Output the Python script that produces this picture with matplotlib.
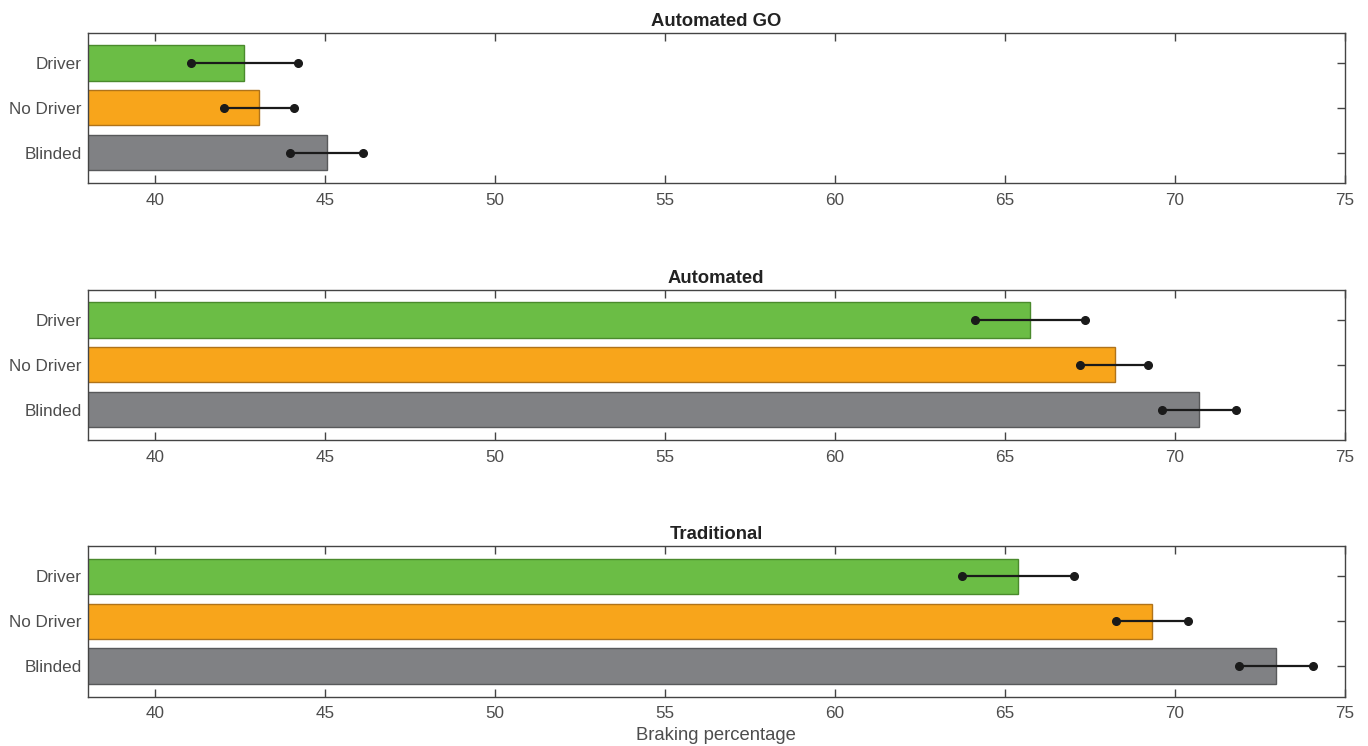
import matplotlib
matplotlib.use("Agg")
import matplotlib.pyplot as plt
import numpy as np

plt.rcParams['font.family'] = ['Liberation Sans', 'DejaVu Sans']

panels = ["Automated GO", "Automated", "Traditional"]
categories = ["Driver", "No Driver", "Blinded"]
means = {
    "Automated GO": [42.62, 43.05, 45.04],
    "Automated": [65.75, 68.23, 70.73],
    "Traditional": [65.39, 69.33, 72.98],
}
err_low = {
    "Automated GO": [41.04, 42.01, 43.95],
    "Automated": [64.12, 67.22, 69.64],
    "Traditional": [63.75, 68.26, 71.90],
}
err_high = {
    "Automated GO": [44.20, 44.07, 46.12],
    "Automated": [67.36, 69.22, 71.82],
    "Traditional": [67.03, 70.38, 74.06],
}
colors = ["#6bbd45", "#f8a51b", "#808184"]
edgecolors = ["#4a8a2c", "#b0731a", "#58595b"]
xticks = [40, 45, 50, 55, 60, 65, 70, 75]
xlabel = "Braking percentage"

fig = plt.figure(figsize=(13.68, 7.46), dpi=100)
W, H = 1368, 746
left, right = 87.5, 1344.5
tops = [32.5, 289.5, 546]
ax_h = 150.5
tick_color = "#4d4d4d"

ypos = [3, 2, 1]
for p, top in zip(panels, tops):
    ax = fig.add_axes([left / W, 1 - (top + ax_h) / H, (right - left) / W, ax_h / H])
    ax.barh(ypos, means[p], height=0.79, color=colors, edgecolor=edgecolors,
            linewidth=1.0, zorder=2)
    for y, lo, hi in zip(ypos, err_low[p], err_high[p]):
        ax.plot([lo, hi], [y, y], color="#1a1a1a", lw=1.6, marker="o",
                markersize=5.5, zorder=3)
    ax.set_xlim(38, 75)
    ax.set_ylim(0.32, 3.68)
    ax.set_xticks(xticks)
    ax.set_yticks(ypos)
    ax.set_yticklabels(categories)
    ax.tick_params(direction="in", length=6, width=1, colors="#444444",
                   labelcolor=tick_color, labelsize=12.3,
                   top=True, right=True)
    ax.tick_params(axis="x", pad=7)
    ax.tick_params(axis="y", pad=4.3)
    for s in ax.spines.values():
        s.set_color("#444444")
        s.set_linewidth(1.0)
    ax.set_title(p, fontsize=13.3, fontweight="bold", color="#222222", pad=5)
    if p == "Traditional":
        ax.set_xlabel(xlabel, fontsize=13.3, color=tick_color, labelpad=4.5)

fig.savefig("out.png", dpi=100)
